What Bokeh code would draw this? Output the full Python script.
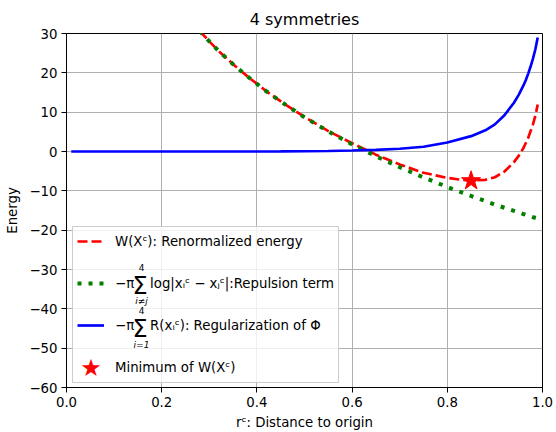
from bokeh.plotting import figure
from bokeh.models import (Legend, LegendItem, Label, FixedTicker, Range1d, BoxAnnotation,
                          NumeralTickFormatter, CustomJSTickFormatter)
from bokeh.embed import file_html
from bokeh.resources import INLINE

# ---- data ----
r_curve = [0.28, 0.30, 0.32, 0.35, 0.38, 0.42, 0.46, 0.50, 0.55, 0.60, 0.65, 0.70,
           0.75, 0.80, 0.83, 0.85, 0.88, 0.90, 0.92, 0.94, 0.95, 0.96, 0.97, 0.98,
           0.985, 0.99]
renormalized = [30.6, 28.0, 25.5, 22.2, 19.1, 15.3, 11.9, 8.8, 5.2, 2.1, -0.8, -3.3,
                -5.4, -6.7, -7.2, -7.4, -7.2, -6.55, -5.1, -2.7, -1.1, 0.9, 3.5, 6.9,
                9.15, 11.96]
repulsion = [30.6, 28.0, 25.5, 22.2, 19.1, 15.3, 11.9, 8.7, 5.1, 1.8, -1.2, -4.0,
             -6.6, -9.0, -10.4, -11.3, -12.6, -13.5, -14.3, -15.1, -15.5, -15.9,
             -16.3, -16.7, -16.85, -17.0]
r_reg = [0.01, 0.1, 0.2, 0.3, 0.4, 0.45, 0.5, 0.55, 0.6, 0.65, 0.7, 0.75, 0.8, 0.85,
         0.88, 0.9, 0.92, 0.94, 0.95, 0.96, 0.965, 0.97, 0.975, 0.98, 0.985, 0.99]
regularization = [0, 0, 0, 0, 0.01, 0.03, 0.06, 0.12, 0.25, 0.42, 0.7, 1.2, 2.3, 3.9,
                  5.4, 6.9, 9.2, 12.4, 14.4, 16.8, 18.2, 19.8, 21.6, 23.6, 26.0, 29.0]
min_r = [0.85]
min_w = [-7.45]

x_ticks = [0.0, 0.2, 0.4, 0.6, 0.8, 1.0]
y_ticks = [-60, -50, -40, -30, -20, -10, 0, 10, 20, 30]

FONT = "DejaVu Sans"
FS = "13.3px"

p = figure(width=556, height=432, x_range=Range1d(0, 1), y_range=Range1d(-60, 30),
           output_backend="svg", toolbar_location=None,
           min_border_left=66, min_border_right=14, min_border_top=33,
           min_border_bottom=45)

p.title.text = "4 symmetries"
p.title.align = "center"
p.title.text_font = FONT
p.title.text_font_style = "normal"
p.title.text_font_size = "16px"
p.title.text_color = "black"

p.xaxis.ticker = FixedTicker(ticks=x_ticks)
p.yaxis.ticker = FixedTicker(ticks=y_ticks)
p.xaxis.formatter = NumeralTickFormatter(format="0.0")
p.yaxis.formatter = CustomJSTickFormatter(
    code="return tick < 0 ? '\u2212' + (-tick) : '' + tick;")
p.xaxis.axis_label = "r\u1d9c: Distance to origin"
p.yaxis.axis_label = "Energy"
for ax in (p.xaxis, p.yaxis):
    ax.major_tick_in = 0
    ax.major_tick_out = 5
    ax.minor_tick_line_color = None
    ax.axis_line_color = "black"
    ax.major_tick_line_color = "black"
    ax.major_label_text_font = FONT
    ax.major_label_text_font_size = FS
    ax.major_label_text_color = "black"
    ax.major_label_standoff = 4
    ax.axis_label_text_font = FONT
    ax.axis_label_text_font_size = FS
    ax.axis_label_text_font_style = "normal"
    ax.axis_label_text_color = "black"
p.xaxis.axis_label_standoff = 5
p.yaxis.axis_label_standoff = 6

p.outline_line_color = "black"
p.outline_line_width = 1
p.grid.grid_line_color = "#b0b0b0"
p.grid.grid_line_width = 1

# legend frame (semi-transparent white box, drawn above the grid)
p.add_layout(BoxAnnotation(left=6, right=272, bottom=5, top=161,
                           left_units="screen", right_units="screen",
                           bottom_units="screen", top_units="screen",
                           fill_color="white", fill_alpha=0.8,
                           line_color="#cccccc", line_width=1, line_alpha=1,
                           level="underlay"))

r_red = p.line(r_curve, renormalized, line_color="#ff0000", line_width=2.67,
               line_dash="10 4")
r_green = p.line(r_curve, repulsion, line_color="#008000", line_width=4,
                 line_dash="4 7")
r_blue = p.line(r_reg, regularization, line_color="#0000ff", line_width=2.67)
r_star = p.scatter(min_r, min_w, marker="star", size=20, fill_color="#ff0000",
                   line_color="#ff0000")

SUM_GAP = "\u2003\u2009"
legend = Legend(items=[
    LegendItem(label="W(X\u1d9c): Renormalized energy", renderers=[r_red]),
    LegendItem(label="\u2212\u03c0" + SUM_GAP + "log|x\u1d62\u1d9c \u2212 x\u2c7c\u1d9c|:Repulsion term",
               renderers=[r_green]),
    LegendItem(label="\u2212\u03c0" + SUM_GAP + "R(x\u1d62\u1d9c): Regularization of \u03a6",
               renderers=[r_blue]),
    LegendItem(label="Minimum of W(X\u1d9c)", renderers=[r_star]),
], location=(11, 10))
legend.glyph_width = 27
legend.glyph_height = 20
legend.label_height = 20
legend.label_standoff = 11
legend.spacing = 22
legend.padding = 0
legend.margin = 0
legend.border_line_color = None
legend.background_fill_alpha = 0
legend.label_text_font = FONT
legend.label_text_font_size = FS
legend.label_text_color = "black"
p.add_layout(legend)

# summation signs with their limits, and the legend star
overlay = [
    ("\u03a3", 73.5, 102, "24px", "normal"),
    ("4", 75, 120, "9px", "normal"),
    ("i\u2260j", 75, 87, "9px", "italic"),
    ("\u03a3", 73.5, 59, "24px", "normal"),
    ("4", 75, 77, "9px", "normal"),
    ("i=1", 75, 43, "9px", "italic"),
]
for txt, lx, ly, fs, st in overlay:
    p.add_layout(Label(x=lx, y=ly, x_units="screen", y_units="screen", text=txt,
                       text_font=FONT, text_font_size=fs, text_align="center",
                       text_baseline="middle", text_color="black",
                       text_font_style=st))
p.add_layout(Label(x=24.5, y=20, x_units="screen", y_units="screen", text="\u2605",
                   text_font=FONT, text_font_size="24px", text_align="center",
                   text_baseline="middle", text_color="#ff0000"))

open("out.html", "w").write(file_html(p, INLINE))
